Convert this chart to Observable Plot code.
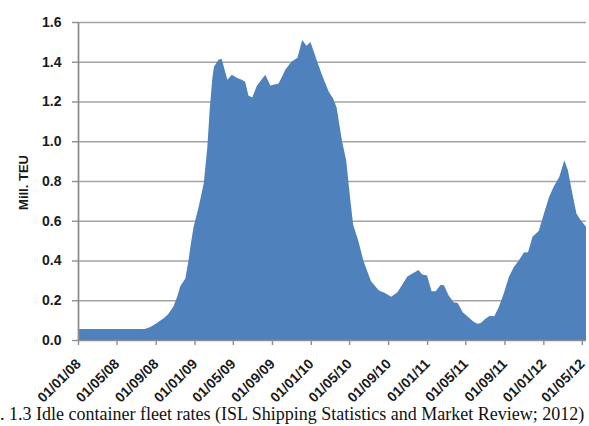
<!DOCTYPE html>
<html>
<head>
<meta charset="utf-8">
<script src="https://cdn.jsdelivr.net/npm/d3@7"></script>
<script src="https://cdn.jsdelivr.net/npm/@observablehq/plot@0.6"></script>
<style>
  body { margin: 0; background: #fff; width: 589px; height: 426px; overflow: hidden; }
  #chart svg { display: block; }
  #caption { font-family: "Liberation Serif", "Times New Roman", serif; font-size: 18px; line-height: 18px; white-space: nowrap; margin-left: 0px; color: #111; }
</style>
</head>
<body>
<div id="chart"></div>
<div id="caption">. 1.3 Idle container fleet rates (ISL Shipping Statistics and Market Review; 2012)</div>
<script>
const dates = [
  "2008-01-01","2008-07-29","2008-08-15","2008-08-31","2008-09-26","2008-10-10","2008-10-27","2008-11-08",
  "2008-11-17","2008-12-03","2008-12-13","2008-12-20","2008-12-29","2009-01-14","2009-01-30","2009-02-10",
  "2009-02-18","2009-02-26","2009-03-03","2009-03-17","2009-03-27","2009-04-07","2009-04-14","2009-04-28",
  "2009-05-13","2009-05-29","2009-06-09","2009-06-19","2009-07-01","2009-07-16","2009-08-11","2009-08-27",
  "2009-09-22","2009-10-13","2009-11-01","2009-11-20","2009-12-05","2009-12-18","2009-12-31","2010-01-19",
  "2010-02-06","2010-02-16","2010-02-26","2010-03-12","2010-03-23","2010-04-03","2010-04-09","2010-04-22",
  "2010-05-04","2010-05-14","2010-05-30","2010-06-15","2010-06-24","2010-07-09","2010-08-02","2010-08-23",
  "2010-09-10","2010-09-30","2010-10-16","2010-10-31","2010-11-16","2010-12-05","2010-12-17","2011-01-01",
  "2011-01-15","2011-01-28","2011-02-12","2011-02-23","2011-03-09","2011-03-25","2011-04-07","2011-04-23",
  "2011-05-11","2011-05-27","2011-06-08","2011-06-19","2011-07-02","2011-07-17","2011-07-31","2011-08-14",
  "2011-08-30","2011-09-15","2011-10-01","2011-10-16","2011-11-01","2011-11-14","2011-11-28","2011-12-18",
  "2012-01-03","2012-01-19","2012-02-02","2012-02-20","2012-03-07","2012-03-18","2012-04-01","2012-04-14",
  "2012-04-27","2012-05-14"
];
const idleTEU = [
  0.055,0.055,0.065,0.08,0.11,0.13,0.17,0.22,
  0.27,0.31,0.40,0.48,0.57,0.67,0.79,0.97,
  1.17,1.32,1.375,1.41,1.415,1.35,1.31,1.335,
  1.32,1.31,1.30,1.23,1.22,1.28,1.335,1.28,
  1.29,1.36,1.40,1.42,1.51,1.48,1.50,1.41,
  1.33,1.29,1.25,1.215,1.17,1.06,1.00,0.905,
  0.72,0.58,0.50,0.40,0.36,0.295,0.25,0.235,
  0.218,0.24,0.28,0.32,0.335,0.352,0.33,0.325,
  0.245,0.245,0.277,0.275,0.226,0.19,0.186,0.14,
  0.115,0.092,0.082,0.085,0.106,0.122,0.119,0.165,
  0.235,0.318,0.369,0.40,0.44,0.442,0.52,0.55,
  0.637,0.72,0.77,0.82,0.905,0.855,0.738,0.637,
  0.604,0.57
];
const yTicks = [0, 0.2, 0.4, 0.6, 0.8, 1.0, 1.2, 1.4, 1.6];
const xTickLabels = ["01/01/08","01/05/08","01/09/08","01/01/09","01/05/09","01/09/09","01/01/10",
  "01/05/10","01/09/10","01/01/11","01/05/11","01/09/11","01/01/12","01/05/12"];
const yLabel = "Mill. TEU";

const parseIso = d3.utcParse("%Y-%m-%d");
const parseLabel = d3.utcParse("%d/%m/%y");
const data = dates.map((d, i) => ({date: parseIso(d), value: idleTEU[i]}));
const xTicks = xTickLabels.map(parseLabel);

const chart = Plot.plot({
  width: 589,
  height: 405,
  marginLeft: 78,
  marginRight: 3,
  marginTop: 22,
  marginBottom: 65,
  style: {fontFamily: "'Liberation Sans', Arial, sans-serif", background: "#fff", color: "#1a1a1a"},
  x: {type: "utc", domain: [data[0].date, data[data.length - 1].date]},
  y: {domain: [0, 1.6]},
  marks: [
    Plot.ruleY(yTicks.filter(v => v > 0), {stroke: "#a3a3a3", strokeWidth: 1.6}),
    Plot.areaY(data, {x: "date", y: "value", fill: "#4F81BD"}),
    Plot.ruleY([0], {stroke: "#8e8e8e", strokeWidth: 1.6}),
    Plot.ruleX([data[0].date], {stroke: "#8e8e8e", strokeWidth: 1.8}),
    Plot.axisY({ticks: yTicks, tickSize: 6, tickPadding: 11, tickFormat: d => d.toFixed(1),
      fontSize: 14, fontWeight: "bold", stroke: "#8e8e8e", strokeWidth: 1.4, label: null}),
    Plot.axisX({ticks: xTicks, tickSize: 5, tickPadding: 16, tickRotate: -45,
      tickFormat: (d, i) => xTickLabels[i], fontSize: 14, fontWeight: "bold",
      stroke: "#8e8e8e", strokeWidth: 1.4, label: null}),
    Plot.text([yLabel], {text: d => d, frameAnchor: "left", textAnchor: "middle", dx: -55, dy: 1, rotate: -90,
      fontSize: 13, fontWeight: "bold"})
  ]
});
document.getElementById("chart").appendChild(chart);
</script>
</body>
</html>
